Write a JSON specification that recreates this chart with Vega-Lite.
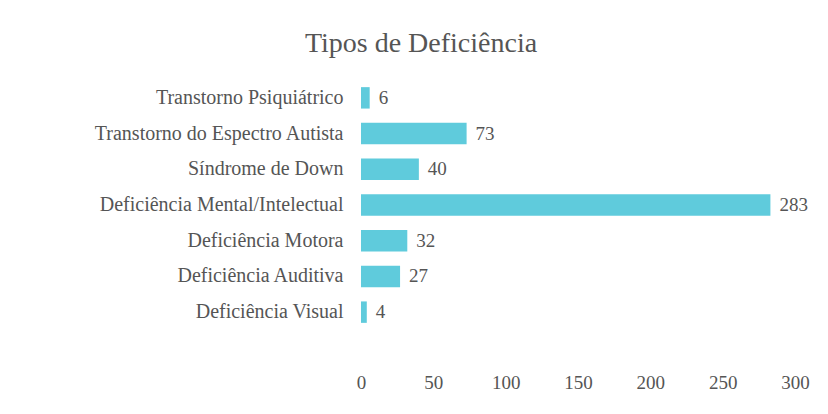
{
  "$schema": "https://vega.github.io/schema/vega-lite/v6.json",
  "width": 434,
  "height": 250,
  "autosize": {"type": "none"},
  "padding": {"left": 361, "top": 80, "right": 33, "bottom": 84},
  "background": "white",
  "title": {
    "text": "Tipos de Deficiência",
    "font": "Liberation Serif",
    "fontSize": 28,
    "fontWeight": "normal",
    "color": "#555555",
    "anchor": "middle",
    "dx": -157,
    "offset": 22
  },
  "config": {"view": {"stroke": null}},
  "data": {
    "values": [
      {"tipo": "Transtorno Psiquiátrico", "valor": 6},
      {"tipo": "Transtorno do Espectro Autista", "valor": 73},
      {"tipo": "Síndrome de Down", "valor": 40},
      {"tipo": "Deficiência Mental/Intelectual", "valor": 283},
      {"tipo": "Deficiência Motora", "valor": 32},
      {"tipo": "Deficiência Auditiva", "valor": 27},
      {"tipo": "Deficiência Visual", "valor": 4}
    ]
  },
  "encoding": {
    "y": {
      "field": "tipo",
      "type": "nominal",
      "sort": null,
      "scale": {"paddingInner": 0.4, "paddingOuter": 0.2},
      "axis": {
        "title": null,
        "domain": false,
        "ticks": false,
        "labelFont": "Liberation Serif",
        "labelFontSize": 20,
        "labelColor": "#555555",
        "labelPadding": 18,
        "labelLimit": 400
      }
    },
    "x": {
      "field": "valor",
      "type": "quantitative",
      "scale": {"domain": [0, 300]},
      "axis": {
        "title": null,
        "domain": false,
        "ticks": false,
        "grid": false,
        "labelFlush": false,
        "values": [0, 50, 100, 150, 200, 250, 300],
        "labelFont": "Liberation Serif",
        "labelFontSize": 19,
        "labelColor": "#555555",
        "labelPadding": 43
      }
    }
  },
  "layer": [
    {"mark": {"type": "bar", "color": "#5fcbdc"}},
    {
      "mark": {
        "type": "text",
        "align": "left",
        "dx": 9,
        "font": "Liberation Serif",
        "fontSize": 19,
        "color": "#555555"
      },
      "encoding": {"text": {"field": "valor", "type": "quantitative"}}
    }
  ]
}
